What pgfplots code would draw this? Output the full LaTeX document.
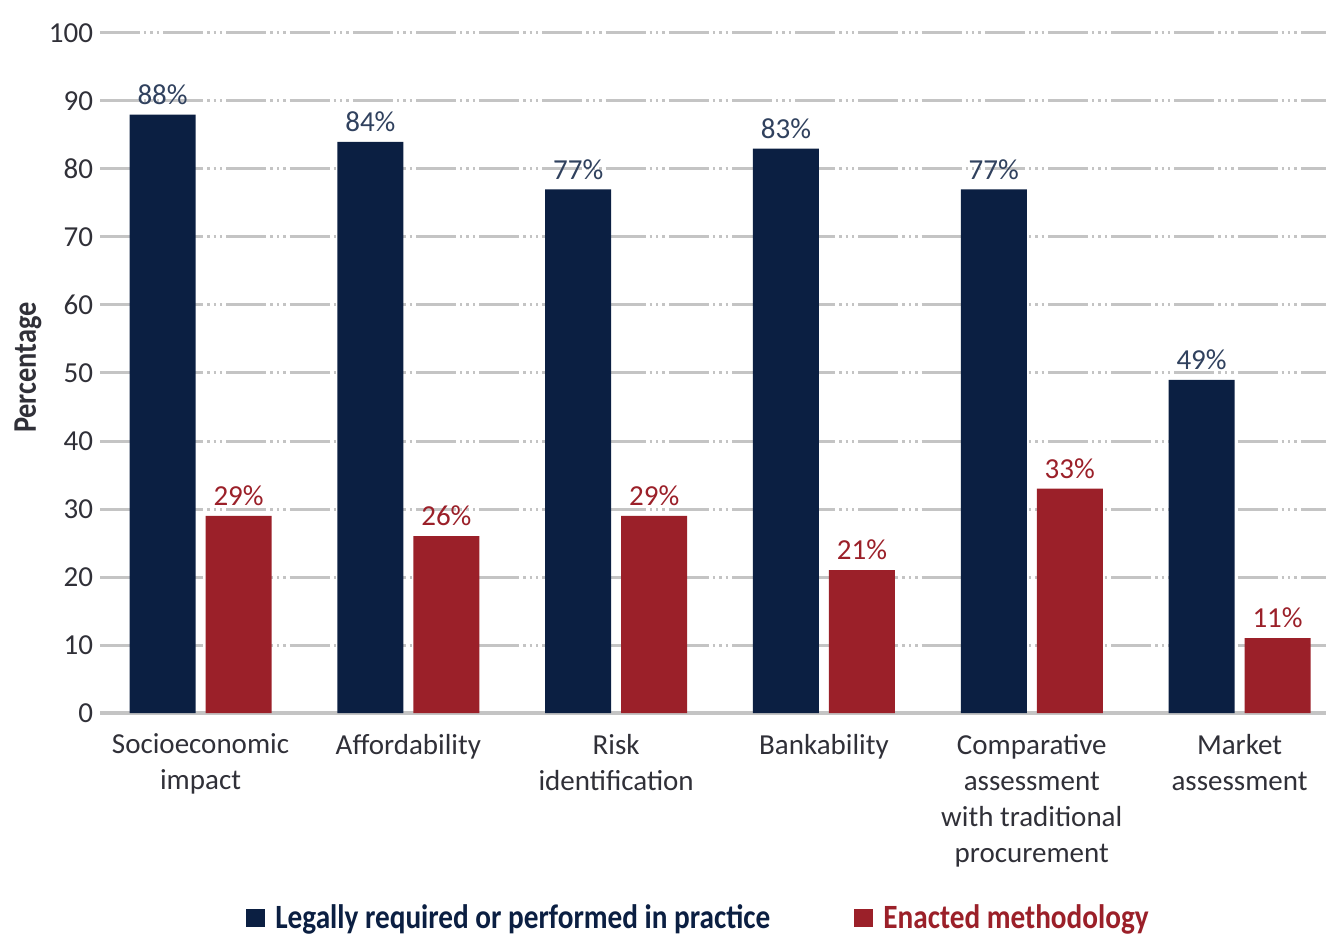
\documentclass[border=0pt]{standalone}
\usepackage{pgfplots}
\pgfplotsset{compat=1.18}
\usepackage{fontspec}
\setmainfont{Carlito}
\newfontfamily\condfont[FakeStretch=0.86]{Carlito}
\definecolor{navy}{HTML}{0B1F42}
\definecolor{wred}{HTML}{9B2029}
\definecolor{txt}{HTML}{303038}
\definecolor{gridc}{HTML}{C4C4C4}
\begin{document}
\begin{tikzpicture}
\useasboundingbox (-50bp,-110.5bp) rectangle (613bp,356.5bp);
\begin{axis}[
  scale only axis,
  width=613bp, height=340bp,
  ybar=5bp, bar width=33bp,
  xmin=-0.484, xmax=5.416,
  ymin=0, ymax=100,
  ytick={0,10,...,100},
  xtick=data,
  xticklabels={{Socioeconomic\\impact},{Affordability},{Risk\\identification},{Bankability},{Comparative\\assessment\\with traditional\\procurement},{Market\\assessment}},
  xticklabel style={align=center, font=\fontsize{14.5bp}{18bp}\selectfont, text=txt, yshift=-7bp},
  yticklabel style={font=\fontsize{14.5bp}{17bp}\selectfont, text=txt},
  /pgf/number format/assume math mode=true,
  major tick length=0pt,
  ymajorgrids,
  major grid style={gridc, line width=1.5bp, dash pattern=on 20bp off 2bp on 1.2bp off 2bp on 1.2bp off 2bp on 1.2bp off 2bp},
  axis x line*=bottom, axis y line*=left,
  x axis line style={gridc, line width=1.8bp, -},
  y axis line style={draw=none},
  ylabel={\bfseries Percentage},
  every axis y label/.style={at={(axis description cs:-0.0587,0.508)}, rotate=90, anchor=center, font=\condfont\fontsize{16.5bp}{18bp}\selectfont, text=txt},
  nodes near coords={\pgfmathprintnumber{\pgfplotspointmeta}\%},
  every node near coord/.append style={font=\fontsize{14.5bp}{17bp}\selectfont, /pgf/number format/assume math mode=true, yshift=1.5bp},
  legend style={at={(0.489,-0.301)}, anchor=center, draw=none, legend columns=2, font=\condfont\bfseries\fontsize{17bp}{19bp}\selectfont, /tikz/every even column/.append style={column sep=40bp}},
  legend image code/.code={\fill[#1] (0bp,-4.5bp) rectangle (9.5bp,4.5bp); \path (12.5bp,0);},
]
\addplot[fill=navy, draw=none, every node near coord/.append style={text=navy!85!white}] coordinates {(0,88) (1,84) (2,77) (3,83) (4,77) (5,49)};
\addlegendentry{\textcolor{navy}{Legally required or performed in practice}}
\addplot[fill=wred, draw=none, every node near coord/.append style={text=wred}] coordinates {(0,29) (1,26) (2,29) (3,21) (4,33) (5,11)};
\addlegendentry{\textcolor{wred}{Enacted methodology}}
\end{axis}
\end{tikzpicture}
\end{document}
